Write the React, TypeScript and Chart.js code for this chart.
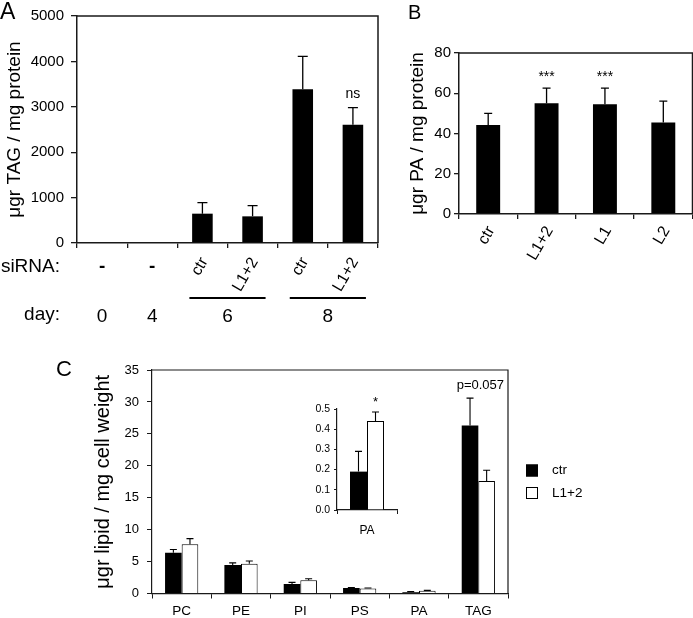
import React, { useEffect, useRef } from "react";
import { Chart, registerables } from "chart.js";

Chart.register(...registerables);

const FONT = "'Liberation Sans', Arial, Helvetica, sans-serif";

// ---------- Panel A : TAG during differentiation ----------
const aCategories = ["day0", "day4", "day6 ctr", "day6 L1+2", "day8 ctr", "day8 L1+2"];
const aSiRNA = ["-", "-", "ctr", "L1+2", "ctr", "L1+2"];
const aValues = [0, 0, 646, 587, 3385, 2607];
const aErrors = [0, 0, 242, 235, 727, 374];
const aSignif = ["", "", "", "", "", "ns"];
const aDayLabels = ["0", "4", "6", "8"];
const aDayFirst = [0, 1, 2, 4];
const aDayLast = [0, 1, 3, 5];
const aDayUnderline = [false, false, true, true];

// ---------- Panel B : PA ----------
const bCategories = ["ctr", "L1+2", "L1", "L2"];
const bValues = [44.2, 55, 54.5, 45.5];
const bErrors = [5.8, 7.5, 8, 10.6];
const bSignif = ["", "***", "***", ""];

// ---------- Panel C : lipids ----------
const cCategories = ["PC", "PE", "PI", "PS", "PA", "TAG"];
const cSeries = ["ctr", "L1+2"];
const cCtrValues = [6.4, 4.46, 1.49, 0.86, 0.19, 26.3];
const cCtrErrors = [0.5, 0.34, 0.26, 0.06, 0.1, 4.3];
const cKdValues = [7.7, 4.67, 2.06, 0.8, 0.44, 17.6];
const cKdErrors = [0.9, 0.43, 0.24, 0.05, 0.045, 1.7];
const cSignif = ["", "", "", "", "", "p=0.057"];

// ---------- Inset : PA ----------
const insetCategories = ["PA"];
const insetCtrValues = [0.19];
const insetCtrErrors = [0.1];
const insetKdValues = [0.44];
const insetKdErrors = [0.045];
const insetSignif = ["*"];

Chart.defaults.font.family = FONT;
Chart.defaults.color = "#000";

const errorBarsPlugin = {
  id: "errorBars",
  afterDatasetsDraw(chart: any, _a: any, opts: any) {
    const { ctx } = chart;
    const y = chart.scales.y;
    const cap = opts && opts.cap != null ? opts.cap : 4;
    ctx.save();
    ctx.strokeStyle = "#000";
    ctx.lineWidth = opts && opts.width ? opts.width : 1.2;
    chart.data.datasets.forEach((ds: any, di: number) => {
      if (!ds.errors) return;
      const meta = chart.getDatasetMeta(di);
      meta.data.forEach((el: any, i: number) => {
        const e = ds.errors[i];
        if (!e) return;
        const top = y.getPixelForValue(ds.data[i] + e);
        ctx.beginPath();
        ctx.moveTo(el.x, el.y);
        ctx.lineTo(el.x, top);
        ctx.moveTo(el.x - cap, top);
        ctx.lineTo(el.x + cap, top);
        ctx.stroke();
      });
    });
    ctx.restore();
  },
};

const signifPlugin = {
  id: "signif",
  afterDatasetsDraw(chart: any, _a: any, opts: any) {
    if (!opts || !opts.labels) return;
    const { ctx } = chart;
    const x = chart.scales.x;
    const y = chart.scales.y;
    ctx.save();
    ctx.fillStyle = "#000";
    ctx.font = opts.font;
    ctx.textAlign = "center";
    ctx.textBaseline = opts.baseline || "alphabetic";
    opts.labels.forEach((lab: string, i: number) => {
      if (!lab) return;
      let top = -Infinity;
      let bx = x.getPixelForValue(i);
      chart.data.datasets.forEach((ds: any, di: number) => {
        const t = ds.data[i] + (ds.errors ? ds.errors[i] : 0);
        if (t > top) {
          top = t;
          if (opts.anchor === "bar") bx = chart.getDatasetMeta(di).data[i].x;
        }
      });
      ctx.fillText(lab, bx + (opts.dx || 0), y.getPixelForValue(top) - opts.offset);
    });
    ctx.restore();
  },
};

const framePlugin = {
  id: "frame",
  afterDraw(chart: any, _a: any, opts: any) {
    if (!opts || !opts.color) return;
    const { ctx, chartArea } = chart;
    ctx.save();
    ctx.strokeStyle = opts.color;
    ctx.lineWidth = opts.width;
    ctx.beginPath();
    ctx.moveTo(chartArea.left, chartArea.top);
    ctx.lineTo(chartArea.right, chartArea.top);
    ctx.lineTo(chartArea.right, chartArea.bottom);
    ctx.stroke();
    ctx.restore();
  },
};

Chart.register(errorBarsPlugin, signifPlugin, framePlugin);

const aLabelsPlugin = {
  id: "aLabels",
  afterDraw(chart: any) {
    const { ctx, chartArea } = chart;
    const x = chart.scales.x;
    const base = chartArea.bottom;
    ctx.save();
    ctx.fillStyle = "#000";
    ctx.strokeStyle = "#000";
    ctx.textBaseline = "middle";
    ctx.font = `19px ${FONT}`;
    ctx.textAlign = "right";
    ctx.fillText("siRNA:", 60, base + 24);
    ctx.fillText("day:", 60, base + 72);
    aSiRNA.forEach((lab, i) => {
      const px = x.getPixelForValue(i);
      if (lab === "-") {
        ctx.font = `bold 19px ${FONT}`;
        ctx.textAlign = "center";
        ctx.fillText(lab, px, base + 24);
      } else {
        ctx.save();
        ctx.translate(px + 2, base + 16);
        ctx.rotate(-Math.PI / 3);
        ctx.font = `16px ${FONT}`;
        ctx.textAlign = "right";
        ctx.fillText(lab, 0, 0);
        ctx.restore();
      }
    });
    ctx.font = `19px ${FONT}`;
    ctx.textAlign = "center";
    ctx.lineWidth = 2;
    aDayLabels.forEach((lab, i) => {
      const p0 = x.getPixelForValue(aDayFirst[i]);
      const p1 = x.getPixelForValue(aDayLast[i]);
      ctx.fillText(lab, (p0 + p1) / 2, base + 74);
      if (aDayUnderline[i]) {
        ctx.beginPath();
        ctx.moveTo(p0 - 13, base + 55);
        ctx.lineTo(p1 + 13, base + 55);
        ctx.stroke();
      }
    });
    ctx.restore();
  },
};

const cLegendPlugin = {
  id: "cLegend",
  afterDraw(chart: any) {
    const { ctx, chartArea } = chart;
    const x0 = chartArea.right + 18;
    const ys = [chartArea.top + 100.5, chartArea.top + 123];
    ctx.save();
    chart.data.datasets.forEach((ds: any, i: number) => {
      const yc = ys[i];
      ctx.fillStyle = ds.backgroundColor;
      ctx.fillRect(x0, yc - 6, 12, 12);
      ctx.strokeStyle = "#000";
      ctx.lineWidth = 1;
      ctx.strokeRect(x0 + 0.5, yc - 5.5, 11, 11);
      ctx.fillStyle = "#000";
      ctx.font = `13.5px ${FONT}`;
      ctx.textAlign = "left";
      ctx.textBaseline = "middle";
      ctx.fillText(ds.label, x0 + 26, yc);
    });
    ctx.restore();
  },
};

const axisColor = "#1a1a1a";
const plain = (v: any) => String(v);

export default function App() {
  const aRef = useRef<HTMLCanvasElement>(null);
  const bRef = useRef<HTMLCanvasElement>(null);
  const cRef = useRef<HTMLCanvasElement>(null);
  const iRef = useRef<HTMLCanvasElement>(null);

  useEffect(() => {
    const common = {
      animation: false as const,
      responsive: false,
      maintainAspectRatio: false,
      devicePixelRatio: 1,
      events: [] as any[],
    };

    const chartA = new Chart(aRef.current!, {
      type: "bar",
      data: {
        labels: aCategories,
        datasets: [
          {
            label: "TAG",
            data: aValues,
            errors: aErrors,
            backgroundColor: "#000",
            categoryPercentage: 0.41,
            barPercentage: 1,
          } as any,
        ],
      },
      options: {
        ...common,
        layout: { padding: { left: 0, top: 16, right: 12, bottom: 0 } },
        plugins: {
          legend: { display: false },
          tooltip: { enabled: false },
          errorBars: { cap: 5, width: 1.3 },
          signif: { labels: aSignif, font: `14px ${FONT}`, offset: 10, anchor: "bar" },
          frame: { color: axisColor, width: 1.5 },
        } as any,
        scales: {
          x: {
            grid: { display: true, drawOnChartArea: false, tickLength: 5, color: axisColor, lineWidth: 1.3 },
            border: { display: true, color: axisColor, width: 1.5 },
            ticks: { display: false },
            afterFit: (s: any) => { s.height = 92; },
          },
          y: {
            min: 0,
            max: 5000,
            ticks: { stepSize: 1000, font: { size: 15 }, color: "#000", padding: 7, callback: plain },
            grid: { drawOnChartArea: false, tickLength: 6, color: axisColor, lineWidth: 1.3 },
            border: { color: axisColor, width: 1.5 },
            title: { display: true, text: "μgr TAG / mg protein", font: { size: 19 }, color: "#000", padding: { top: 3, bottom: 0 } },
            afterFit: (s: any) => { s.width = 77; },
          },
        } as any,
      },
      plugins: [aLabelsPlugin],
    });

    const chartB = new Chart(bRef.current!, {
      type: "bar",
      data: {
        labels: bCategories,
        datasets: [
          {
            label: "PA",
            data: bValues,
            errors: bErrors,
            backgroundColor: "#000",
            categoryPercentage: 0.41,
            barPercentage: 1,
          } as any,
        ],
      },
      options: {
        ...common,
        layout: { padding: { left: 12, top: 53, right: 0.5, bottom: 0 } },
        plugins: {
          legend: { display: false },
          tooltip: { enabled: false },
          errorBars: { cap: 4, width: 1.3 },
          signif: { labels: bSignif, font: `14px ${FONT}`, offset: 7, anchor: "bar" },
          frame: { color: axisColor, width: 1.5 },
        } as any,
        scales: {
          x: {
            grid: { display: true, drawOnChartArea: false, tickLength: 5, color: axisColor, lineWidth: 1.3 },
            border: { display: true, color: axisColor, width: 1.5 },
            ticks: { font: { size: 16 }, color: "#000", minRotation: 60, maxRotation: 60, padding: 4, labelOffset: 3, autoSkip: false },
            afterFit: (s: any) => { s.height = 86; },
          },
          y: {
            min: 0,
            max: 80,
            ticks: { stepSize: 20, font: { size: 15 }, color: "#000", padding: 3, callback: plain },
            grid: { drawOnChartArea: false, tickLength: 5, color: axisColor, lineWidth: 1.3 },
            border: { color: axisColor, width: 1.5 },
            title: { display: true, text: "μgr PA / mg protein", font: { size: 19 }, color: "#000", padding: { top: 4, bottom: 0 } },
            afterFit: (s: any) => { s.width = 57; },
          },
        } as any,
      },
    });

    const chartC = new Chart(cRef.current!, {
      type: "bar",
      data: {
        labels: cCategories,
        datasets: [
          {
            label: cSeries[0],
            data: cCtrValues,
            errors: cCtrErrors,
            backgroundColor: "#000",
            borderColor: "#000",
            borderWidth: 0,
            categoryPercentage: 0.56,
            barPercentage: 1,
          } as any,
          {
            label: cSeries[1],
            data: cKdValues,
            errors: cKdErrors,
            backgroundColor: "#fff",
            borderColor: "#000",
            borderWidth: 1,
            categoryPercentage: 0.56,
            barPercentage: 1,
          } as any,
        ],
      },
      options: {
        ...common,
        layout: { padding: { left: 87, top: 30, right: 185, bottom: 0 } },
        plugins: {
          legend: { display: false },
          tooltip: { enabled: false },
          errorBars: { cap: 3.5, width: 1.1 },
          signif: { labels: cSignif, font: `13px ${FONT}`, offset: 13, anchor: "category", baseline: "middle", dx: 2 },
          frame: { color: axisColor, width: 1.2 },
        } as any,
        scales: {
          x: {
            grid: { display: true, drawOnChartArea: false, tickLength: 5, color: axisColor, lineWidth: 1 },
            border: { display: true, color: axisColor, width: 1.2 },
            ticks: { font: { size: 13.5 }, color: "#000", padding: 4.4, maxRotation: 0, autoSkip: false },
            afterFit: (s: any) => { s.height = 24.5; },
          },
          y: {
            min: 0,
            max: 35,
            ticks: { stepSize: 5, font: { size: 13 }, color: "#000", padding: 8, callback: plain },
            grid: { drawOnChartArea: false, tickLength: 5, color: axisColor, lineWidth: 1 },
            border: { color: axisColor, width: 1.2 },
            title: { display: true, text: "μgr lipid / mg cell weight", font: { size: 20 }, color: "#000", padding: { top: 4, bottom: 0 } },
            afterFit: (s: any) => { s.width = 65; },
          },
        } as any,
      },
      plugins: [cLegendPlugin],
    });

    const chartI = new Chart(iRef.current!, {
      type: "bar",
      data: {
        labels: insetCategories,
        datasets: [
          {
            label: cSeries[0],
            data: insetCtrValues,
            errors: insetCtrErrors,
            backgroundColor: "#000",
            borderWidth: 0,
            categoryPercentage: 0.567,
            barPercentage: 1,
          } as any,
          {
            label: cSeries[1],
            data: insetKdValues,
            errors: insetKdErrors,
            backgroundColor: "#fff",
            borderColor: "#000",
            borderWidth: 1,
            categoryPercentage: 0.567,
            barPercentage: 1,
          } as any,
        ],
      },
      options: {
        ...common,
        layout: { padding: { left: 0, top: 29, right: 13, bottom: 0 } },
        plugins: {
          legend: { display: false },
          tooltip: { enabled: false },
          errorBars: { cap: 3.5, width: 1.1 },
          signif: { labels: insetSignif, font: `13px ${FONT}`, offset: 6.5, anchor: "bar" },
        } as any,
        scales: {
          x: {
            grid: { display: true, drawOnChartArea: false, tickLength: 4, color: axisColor, lineWidth: 1 },
            border: { display: true, color: axisColor, width: 1.2 },
            ticks: { font: { size: 12 }, color: "#000", padding: 9.8, maxRotation: 0 },
            afterFit: (s: any) => { s.height = 35; },
          },
          y: {
            min: 0,
            max: 0.5,
            ticks: { stepSize: 0.1, font: { size: 10.5 }, color: "#000", padding: 4, callback: (v: any) => Number(v).toFixed(1) },
            grid: { drawOnChartArea: false, tickLength: 3, color: axisColor, lineWidth: 1 },
            border: { color: axisColor, width: 1.2 },
            afterFit: (s: any) => { s.width = 47; },
          },
        } as any,
      },
    });

    return () => {
      chartA.destroy();
      chartB.destroy();
      chartC.destroy();
      chartI.destroy();
    };
  }, []);

  const letter = (ch: string, left: number, top: number, size: number) => (
    <div
      style={{
        position: "absolute",
        left,
        top,
        fontFamily: FONT,
        fontSize: size,
        lineHeight: `${size}px`,
        color: "#000",
      }}
    >
      {ch}
    </div>
  );

  return (
    <div
      style={{
        position: "absolute",
        left: 0,
        top: 0,
        width: 693,
        height: 618,
        background: "#fff",
        overflow: "hidden",
      }}
    >
      <canvas ref={aRef} width={390} height={335} style={{ position: "absolute", left: 0, top: 0 }} />
      <canvas ref={bRef} width={303} height={300} style={{ position: "absolute", left: 390, top: 0 }} />
      <canvas ref={cRef} width={693} height={278} style={{ position: "absolute", left: 0, top: 340 }} />
      <canvas ref={iRef} width={120} height={165} style={{ position: "absolute", left: 290, top: 380 }} />
      {letter("A", 0, 0, 23)}
      {letter("B", 408, 2, 20)}
      {letter("C", 56, 358, 22)}
    </div>
  );
}
